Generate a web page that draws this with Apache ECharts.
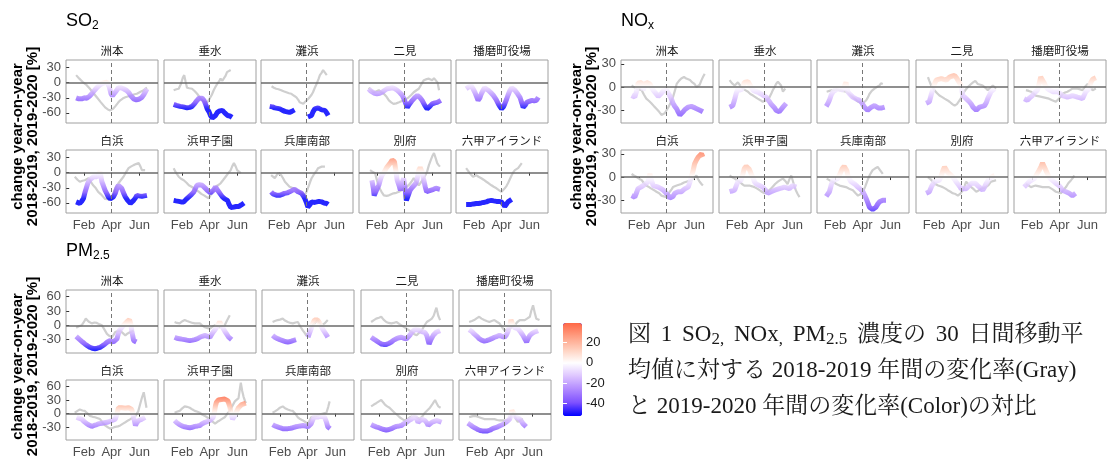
<!DOCTYPE html>
<html><head><meta charset="utf-8">
<script src="https://cdn.jsdelivr.net/npm/echarts@6/dist/echarts.min.js"></script>
<style>
html,body{margin:0;padding:0;background:#fff;}
#wrap{position:relative;width:1120px;height:459px;}
#chart{position:absolute;left:0;top:0;width:1120px;height:459px;}
#cap{position:absolute;left:628px;top:316px;font-family:"Liberation Serif","Noto Serif CJK JP","Noto Sans CJK JP",serif;font-size:23px;line-height:36px;color:#1a1a1a;white-space:nowrap;}
#cap sub{font-size:17px;vertical-align:-3px;line-height:0;}
#cap .l1{word-spacing:4px;}
</style></head>
<body><div id="wrap"><div id="chart"></div>
<div id="cap"><span class="l1">図 1 SO<sub>2,</sub> NOx<sub>,</sub> PM<sub>2.5</sub> 濃度の 30 日間移動平</span><br>均値に対する 2018-2019 年間の変化率(Gray)<br>と 2019-2020 年間の変化率(Color)の対比</div>
</div>
<script>
const stations = ['洲本','垂水','灘浜','二見','播磨町役場','白浜','浜甲子園','兵庫南部','別府','六甲アイランド'];
const monthTicks = [32, 92, 153];
const monthLabels = ['Feb','Apr','Jun'];
const so2Ticks = [-60,-30,0,30];
const noxTicks = [-30,0,30];
const pm25Ticks = [-30,0,30,60];
const legendTicks = [-40,-20,0,20];

const so2Gray = [
 [[15,15],[22,8],[31,0],[38,-5],[45,-12],[52,-20],[60,-29],[68,-38],[78,-49],[84,-53],[89,-55],[95,-52],[100,-47],[106,-40],[111,-35],[117,-31],[122,-29],[129,-27],[136,-25],[142,-23],[147,-22],[155,-18],[162,-15],[169,-10]],
 [[14,-15],[20,-13],[25,-12],[30,-2],[34,10],[37,15],[40,2],[43,-10],[48,-11],[54,-12],[60,-17],[65,-22],[70,-28],[76,-35],[83,-40],[88,-38],[92,-32],[97,-24],[101,-15],[105,-8],[109,-2],[113,3],[116,8],[120,4],[123,5],[127,14],[130,21],[134,18],[138,25]],
 [[16,-7],[21,-10],[26,-12],[31,-13],[37,-15],[42,-17],[48,-19],[54,-21],[59,-22],[65,-26],[70,-29],[74,-34],[77,-39],[81,-40],[85,-42],[89,-38],[92,-35],[96,-32],[99,-29],[103,-24],[106,-19],[110,-10],[114,-2],[118,7],[121,15],[125,20],[128,25],[132,20],[136,15]],
 [[14,-10],[20,-15],[25,-19],[31,-17],[36,-15],[42,-19],[47,-22],[53,-28],[58,-35],[63,-39],[68,-42],[74,-41],[80,-39],[85,-37],[90,-35],[96,-32],[101,-29],[107,-24],[112,-19],[118,-15],[123,-12],[128,-4],[134,5],[140,7],[145,8],[149,6],[152,5],[156,9],[160,11],[164,0],[167,-15]],
 [],
 [[12,-8],[18,-14],[23,-18],[29,-16],[34,-15],[38,-12],[42,-11],[47,-18],[52,-25],[58,-31],[63,-38],[69,-43],[74,-48],[78,-52],[82,-55],[88,-53],[93,-51],[96,-40],[100,-31],[104,-25],[107,-21],[112,-15],[118,-8],[123,0],[129,9],[134,12],[140,15],[145,17],[151,19],[155,12],[158,5],[162,3],[165,5]],
 [[14,9],[19,0],[25,-8],[30,-12],[36,-15],[42,-20],[47,-25],[53,-28],[58,-31],[63,-35],[69,-38],[74,-42],[80,-45],[85,-48],[90,-51],[94,-45],[98,-38],[101,-33],[105,-28],[110,-25],[116,-21],[122,-14],[127,-8],[132,-2],[138,5],[141,12],[145,19],[149,12],[152,5],[156,2],[160,-1]],
 [[15,-5],[19,-8],[23,-11],[27,-5],[30,-1],[34,-3],[37,-5],[41,-11],[45,-18],[50,-23],[55,-28],[61,-30],[66,-31],[72,-35],[77,-38],[83,-42],[88,-45],[92,-38],[96,-28],[100,-18],[103,-11],[107,-5],[110,-1],[114,4],[117,9],[121,10],[125,12],[129,11],[132,12]],
 [[17,5],[22,2],[28,-1],[32,-15],[36,-28],[42,-38],[47,-45],[53,-46],[58,-45],[63,-43],[68,-41],[74,-40],[80,-38],[85,-35],[90,-31],[96,-28],[101,-25],[107,-18],[112,-11],[117,-18],[123,-25],[127,-20],[131,-15],[136,-7],[141,2],[145,15],[149,25],[152,32],[156,39],[160,28],[163,19],[166,15],[169,12]],
 [[15,9],[19,4],[23,-1],[27,-4],[30,-8],[34,-6],[37,-5],[42,-8],[48,-11],[53,-14],[59,-18],[64,-21],[70,-25],[75,-28],[81,-31],[87,-35],[92,-38],[96,-35],[99,-31],[103,-26],[106,-21],[110,-13],[114,-5],[117,0],[121,5],[125,7],[128,9],[132,14],[136,19]]
];
const so2Color = [
 [[15,-30],[21,-32],[27,-32],[33,-30],[38,-31],[44,-27],[49,-22],[55,-15],[60,-10],[66,-5],[71,-2],[77,0],[82,1],[87,-8],[91,-22],[94,-26],[100,-19],[104,-14],[107,-10],[112,-10],[118,-12],[124,-15],[129,-19],[135,-27],[140,-32],[146,-34],[151,-33],[155,-31],[158,-29],[162,-24],[165,-19],[169,-12]],
 [[14,-43],[20,-45],[28,-47],[35,-48],[43,-50],[49,-49],[54,-47],[60,-41],[65,-35],[69,-31],[72,-29],[76,-31],[80,-35],[84,-44],[87,-52],[91,-58],[94,-65],[98,-70],[101,-72],[105,-65],[109,-59],[114,-56],[120,-55],[125,-60],[131,-65],[136,-66],[141,-69]],
 [[12,-47],[18,-48],[23,-50],[29,-51],[34,-52],[40,-55],[45,-57],[50,-58],[55,-59],[60,-57],[66,-54],[72,null],[95,-68],[99,-70],[103,-65],[106,-58],[110,-52],[114,-51],[117,-50],[121,-52],[125,-54],[129,-55],[132,-55],[136,-60],[139,-65]],
 [[14,-12],[18,-16],[21,-19],[27,-21],[32,-22],[38,-21],[43,-19],[49,-15],[54,-12],[60,-11],[65,-10],[71,-12],[76,-15],[82,-20],[87,-25],[92,-35],[98,-49],[103,-42],[109,-35],[115,-29],[120,-25],[125,-29],[130,-35],[136,-45],[141,-52],[147,-47],[152,-42],[158,-40],[163,-39],[167,-37],[171,-35]],
 [[15,-12],[21,-8],[26,-6],[30,-12],[34,-19],[38,-28],[41,-35],[45,-30],[48,-22],[52,-15],[55,-10],[59,-12],[63,-15],[68,-19],[74,-25],[80,-33],[85,-42],[89,-48],[92,-52],[96,-48],[99,-42],[103,-33],[106,-25],[110,-16],[114,-10],[118,-12],[121,-15],[127,-22],[132,-29],[136,-40],[139,-49],[143,-45],[147,-39],[152,-37],[158,-35],[163,-36],[168,-35],[172,-29]],
 [[15,-58],[19,-60],[23,-61],[27,-57],[31,-51],[34,-40],[37,-31],[40,-22],[42,-18],[46,-13],[49,-11],[53,-8],[56,-5],[60,-8],[64,-3],[67,2],[71,-18],[74,-25],[78,-35],[82,-42],[85,-48],[89,-52],[93,-55],[96,-48],[100,-41],[104,-30],[107,-25],[111,-28],[114,-31],[118,-40],[122,-48],[127,-55],[133,-61],[136,-58],[140,-55],[144,-50],[147,-45],[152,-46],[158,-47],[163,-46],[169,-45]],
 [[14,-55],[19,-56],[25,-57],[30,-58],[36,-58],[41,-53],[47,-48],[53,-43],[58,-38],[62,-30],[65,-25],[70,-24],[76,-25],[80,-28],[83,-31],[87,-35],[90,-38],[94,-40],[98,-41],[101,-34],[105,-28],[108,-33],[112,-38],[116,-43],[120,-48],[125,-52],[131,-55],[134,-62],[138,-69],[141,-70],[145,-68],[150,-67],[156,-67],[161,-64],[167,-60]],
 [[15,-38],[19,-42],[23,-45],[28,-45],[33,-45],[39,-43],[44,-41],[50,-40],[55,-38],[61,-35],[66,-33],[70,-35],[74,-38],[77,-40],[81,-41],[85,-46],[88,-51],[92,-60],[95,-68],[99,-64],[103,-58],[108,-59],[114,-58],[119,-57],[125,-58],[130,-60],[136,-61],[139,-63]],
 [[21,-15],[24,-30],[26,-45],[31,-35],[36,-25],[40,-12],[43,-5],[47,0],[50,5],[53,10],[55,12],[60,18],[65,25],[68,27],[70,22],[73,5],[76,-15],[80,-25],[83,-35],[87,-20],[90,-11],[93,-30],[96,-55],[100,-45],[104,-35],[108,-30],[111,-28],[115,-23],[118,-18],[121,-5],[123,5],[126,10],[128,12],[131,0],[133,-11],[137,-28],[140,-38],[145,-36],[149,-35],[155,-33],[160,-31],[165,-32],[169,-33]],
 [[15,-63],[20,-63],[26,-63],[31,-62],[37,-61],[42,-61],[48,-60],[53,-59],[59,-58],[64,-56],[70,-55],[75,-56],[81,-57],[86,-57],[92,-58],[96,-63],[99,-67],[103,-62],[106,-58],[110,-55],[114,-53]]
];
const noxGray = [
 [[16,2],[21,0],[27,-2],[32,-3],[38,-4],[43,-10],[48,-15],[54,-18],[59,-21],[65,-25],[70,-28],[76,-32],[81,-36],[85,-38],[88,-34],[92,-30],[96,-26],[101,-20],[106,-13],[110,-5],[114,4],[119,8],[124,11],[130,13],[135,11],[139,12],[143,9],[148,6],[153,4],[157,0],[161,-2],[164,3],[168,9],[172,14],[175,17]],
 [[16,9],[21,5],[27,2],[30,4],[34,6],[39,2],[45,-2],[50,-4],[56,-6],[61,-9],[67,-11],[72,-13],[77,-15],[83,-17],[88,-19],[92,-18],[96,-17],[99,-15],[103,-13],[107,-8],[110,-4],[114,0],[117,4],[121,7],[124,9],[128,2],[132,-6],[135,-4],[137,-2]],
 [[14,-6],[20,-5],[27,-4],[35,-3],[42,-4],[49,-5],[56,-6],[63,-9],[71,-13],[77,-16],[82,-19],[88,-20],[93,-21],[97,-19],[100,-17],[104,-13],[107,-9],[112,-5],[118,-2],[123,0],[129,2],[132,5],[136,4]],
 [[19,13],[22,8],[26,2],[30,-1],[33,-4],[39,-8],[44,-11],[50,-13],[55,-15],[61,-17],[66,-19],[72,-22],[77,-24],[82,-22],[88,-17],[92,-13],[95,-9],[100,-4],[106,0],[111,3],[117,6],[122,8],[127,4],[133,3],[138,2],[144,-1],[149,-4],[155,-1],[160,2],[164,0],[167,-2]],
 [[19,-4],[25,-5],[30,-6],[35,-8],[40,-11],[48,-12],[55,-13],[62,-14],[69,-15],[76,-17],[84,-19],[88,-17],[91,-15],[95,-12],[98,-9],[104,-7],[109,-6],[115,-4],[120,-2],[126,-2],[131,-2],[137,-3],[142,-4],[147,0],[153,4],[158,0],[164,-4],[167,-3],[171,-2]],
 [[16,4],[21,2],[27,0],[32,-2],[38,-4],[43,-8],[48,-11],[54,-13],[59,-15],[65,-17],[70,-19],[76,-21],[81,-24],[86,-25],[92,-26],[96,-22],[99,-19],[103,-16],[106,-13],[110,-12],[114,-11],[119,-10],[124,-9],[130,-7],[135,-6],[141,-5],[146,-4],[151,-1],[157,2],[160,-2],[164,-6],[168,-9],[171,-11]],
 [[16,2],[21,0],[27,-2],[32,-4],[38,-6],[43,-9],[48,-11],[54,-11],[59,-11],[65,-12],[70,-13],[76,-15],[81,-17],[86,-19],[92,-21],[96,-20],[99,-19],[103,-17],[106,-15],[110,-13],[115,-9],[121,-6],[126,-4],[132,-2],[137,-5],[142,-9],[146,-3],[150,2],[155,-8],[160,-17],[164,-22],[168,-26]],
 [[14,-2],[20,-4],[27,-6],[35,-9],[42,-11],[49,-12],[56,-13],[63,-15],[71,-17],[77,-21],[82,-24],[88,-22],[93,-19],[98,-12],[103,-4],[108,3],[114,9],[119,11],[125,13],[130,9],[136,4]],
 [[19,0],[25,-3],[30,-6],[35,-9],[41,-11],[46,-12],[51,-13],[57,-15],[62,-17],[68,-19],[73,-21],[79,-22],[84,-24],[90,-21],[95,-17],[99,-11],[102,-6],[108,-10],[113,-13],[119,-16],[124,-19],[130,-17],[135,-15],[140,-14],[145,-13],[151,-10],[156,-6],[162,-5],[167,-4]],
 [[19,-9],[25,-11],[30,-13],[35,-12],[40,-11],[48,-12],[55,-13],[62,-13],[69,-13],[77,-16],[84,-19],[90,-20],[95,-21],[100,-17],[106,-13],[111,-8],[117,-4],[121,-1],[124,2]]
];
const noxColor = [
 [[16,-11],[20,-13],[23,-13],[27,-5],[30,5],[34,7],[38,6],[41,-4],[45,2],[48,6],[52,5],[56,4],[60,-1],[63,-4],[67,-7],[70,-9],[74,-12],[77,-13],[81,-8],[85,-5],[89,-4],[92,-4],[96,-8],[99,-11],[103,-16],[106,-21],[110,-25],[114,-28],[117,-32],[121,-36],[124,-34],[128,-32],[132,-29],[135,-28],[139,-26],[142,-24],[146,-25],[150,-26],[154,-27],[157,-28],[161,-29],[164,-30],[168,-31],[171,-32]],
 [[16,-26],[20,-25],[23,-24],[27,-16],[30,-9],[34,-2],[38,-3],[41,-4],[45,0],[48,6],[52,8],[56,7],[59,6],[63,0],[67,-4],[70,-5],[74,-6],[79,-7],[85,-9],[90,-11],[96,-13],[99,-16],[103,-19],[106,-22],[110,-24],[114,-27],[117,-30],[121,-31],[124,-32],[128,-29],[132,-26],[135,-24],[139,-21]],
 [[13,-25],[16,-22],[20,-17],[24,-10],[28,-6],[33,-4],[38,-2],[44,-3],[50,-4],[53,2],[56,6],[58,0],[60,-6],[64,-9],[67,-11],[71,-13],[75,-15],[80,-16],[85,-17],[90,-20],[93,-23],[96,-26],[100,-28],[103,-30],[107,-28],[111,-26],[115,-25],[118,-24],[122,-26],[126,-27],[129,-28],[134,-27],[140,-26]],
 [[15,-21],[19,-20],[22,-19],[26,-10],[30,-2],[33,4],[37,9],[42,10],[48,11],[53,10],[59,9],[63,11],[66,13],[71,14],[77,15],[81,12],[84,9],[88,5],[91,2],[93,-5],[95,-11],[99,-13],[102,-15],[106,-17],[109,-19],[113,-22],[117,-26],[120,-28],[124,-30],[128,-28],[131,-26],[137,-25],[142,-24],[146,-20],[149,-15],[153,-10],[156,-6],[160,-4],[164,-2]],
 [[15,-15],[19,-16],[22,-17],[27,-14],[33,-11],[38,-7],[44,-4],[48,5],[51,13],[55,15],[58,6],[62,1],[66,-2],[71,-4],[77,-6],[82,-6],[88,-6],[93,-8],[98,-11],[104,-12],[109,-13],[115,-12],[120,-11],[126,-12],[131,-13],[137,-14],[142,-15],[146,-10],[149,-6],[153,-5],[156,-2],[160,6],[164,10],[168,11],[171,12]],
 [[16,-24],[20,-25],[23,-26],[27,-20],[30,-15],[36,-13],[41,-11],[46,-9],[52,-6],[54,0],[56,4],[59,-4],[63,-11],[69,-12],[74,-13],[80,-15],[85,-17],[90,-20],[96,-24],[99,-27],[103,-28],[106,-25],[110,-21],[114,-20],[117,-19],[121,-19],[124,-19],[128,-17],[132,-15],[135,-14],[139,-13],[142,-8],[146,0],[150,9],[153,17],[157,22],[161,26],[164,28],[168,30],[171,26]],
 [[16,-19],[21,-18],[27,-17],[30,-12],[34,-6],[38,-5],[41,-4],[45,4],[48,11],[52,14],[56,15],[59,10],[63,4],[67,-1],[70,-6],[74,-9],[77,-11],[81,-11],[85,-11],[88,-13],[92,-15],[96,-18],[99,-21],[103,-20],[106,-19],[110,-18],[114,-17],[119,-16],[124,-15],[130,-14],[135,-13],[141,-14],[146,-15],[150,-13],[153,-11],[157,-12],[161,-13]],
 [[13,-25],[16,-23],[20,-19],[24,-10],[28,-4],[33,-3],[38,-2],[43,4],[48,11],[52,14],[56,15],[58,8],[60,2],[64,-3],[67,-6],[71,-8],[75,-9],[78,-11],[82,-13],[88,-16],[93,-19],[97,-24],[100,-28],[104,-34],[107,-39],[111,-41],[114,-42],[118,-40],[121,-39],[125,-35],[129,-32],[132,-31],[136,-30],[140,-30],[143,-30]],
 [[15,-21],[19,-20],[22,-19],[27,-12],[33,-6],[38,-5],[44,-4],[48,2],[52,9],[55,13],[59,9],[62,6],[68,3],[73,0],[79,-5],[84,-9],[88,-12],[91,-15],[96,-15],[102,-15],[106,-13],[109,-11],[113,-8],[117,-6],[122,-8],[127,-11],[133,-14],[138,-17],[142,-13],[145,-9],[149,-5],[152,-2],[158,0],[164,2]],
 [[15,-13],[20,-10],[26,-6],[31,-4],[37,-2],[42,3],[48,9],[52,14],[55,18],[59,13],[62,9],[66,4],[69,0],[74,-3],[80,-6],[86,-9],[91,-11],[95,-14],[98,-17],[102,-18],[106,-19],[110,-20],[113,-21],[117,-23],[120,-24],[124,-22],[127,-21]]
];
const pm25Gray = [
 [[15,-5],[21,-2],[27,0],[32,7],[36,14],[38,16],[42,8],[45,5],[49,4],[55,6],[60,5],[66,2],[71,0],[76,-8],[82,-18],[87,-22],[93,-25],[97,-19],[100,-14],[106,-12],[111,-11],[116,-16],[122,-21],[127,-17],[133,-14],[137,-12],[140,-11]],
 [[16,7],[21,5],[27,4],[32,8],[38,11],[43,9],[49,7],[55,5],[60,4],[66,4],[71,4],[76,0],[82,-4],[88,-6],[93,-7],[98,-3],[104,0],[109,-2],[114,-4],[120,-2],[125,0],[130,10],[136,21]],
 [[16,7],[21,9],[27,11],[32,12],[38,14],[43,10],[49,7],[55,5],[60,4],[66,6],[71,7],[76,-2],[82,-11],[86,-16],[89,-21],[93,-16],[96,-11],[101,-3],[107,4],[111,8],[114,11],[118,5],[122,0],[125,2],[129,4],[133,8],[136,11]],
 [[15,7],[21,11],[26,14],[32,16],[37,18],[42,12],[48,7],[53,5],[59,4],[64,5],[70,7],[76,3],[81,0],[86,-3],[92,-7],[97,-10],[103,-14],[108,-18],[114,-21],[119,-16],[125,-11],[130,-2],[136,7],[141,10],[147,14],[151,20],[155,32],[157,37],[161,20],[165,11]],
 [[15,7],[21,9],[26,11],[32,15],[37,18],[42,14],[48,11],[53,9],[59,7],[64,9],[70,11],[76,7],[81,4],[86,-3],[92,-11],[97,-9],[103,-7],[108,-3],[114,0],[119,6],[125,11],[130,11],[136,11],[141,14],[147,18],[150,30],[154,42],[158,25],[161,14],[165,12],[168,11]],
 [[12,2],[18,6],[23,9],[29,7],[34,6],[40,0],[45,-5],[51,-7],[56,-8],[62,-10],[67,-12],[73,-20],[78,-26],[84,-30],[89,-33],[95,-31],[100,-29],[106,-28],[111,-26],[117,-22],[122,-19],[128,-15],[133,-12],[139,-8],[144,-5],[150,5],[154,20],[158,35],[162,47],[165,30],[168,13]],
 [[16,2],[21,4],[27,6],[32,11],[38,16],[43,15],[49,13],[55,9],[60,6],[66,4],[71,2],[76,-2],[82,-5],[88,-9],[93,-12],[98,-17],[104,-22],[109,-18],[114,-15],[120,-11],[125,-8],[130,-1],[136,6],[141,16],[147,27],[151,30],[155,34],[158,55],[160,68],[163,50],[166,37],[169,28],[171,23]],
 [[16,2],[21,5],[27,9],[32,13],[38,16],[43,12],[49,9],[55,7],[60,6],[66,-1],[71,-8],[76,-12],[82,-15],[88,-19],[93,-22],[97,-14],[100,-8],[106,-6],[111,-5],[117,-3],[122,-1],[128,1],[133,2],[137,15],[140,27]],
 [[15,16],[21,20],[26,23],[32,27],[37,30],[41,25],[45,20],[50,16],[55,13],[61,7],[66,2],[72,-3],[77,-8],[83,-12],[88,-15],[94,-12],[99,-8],[105,-6],[110,-5],[116,-9],[121,-12],[127,-5],[132,2],[138,8],[143,13],[149,22],[154,30],[158,22],[161,16],[166,13]],
 [[15,-8],[21,-6],[26,-5],[32,-6],[37,-8],[43,-10],[48,-12],[54,-12],[59,-12],[65,-12],[70,-12],[76,-14],[81,-15],[86,-15],[92,-15],[97,-14],[103,-12],[106,-5],[110,2],[114,-4],[117,-12],[121,-18],[125,-15],[128,-13],[132,-12]]
];
const pm25Color = [
 [[15,-23],[19,-27],[23,-30],[29,-35],[34,-39],[40,-43],[45,-46],[50,-48],[56,-49],[61,-48],[67,-46],[72,-43],[78,-39],[83,-35],[89,-32],[93,-34],[96,-35],[100,-31],[104,-28],[106,-20],[109,-11],[113,-6],[118,0],[122,4],[125,7],[128,10],[131,12],[134,2],[136,-11],[138,-22],[140,-32],[143,-34],[146,-35]],
 [[16,-25],[21,-27],[27,-28],[32,-29],[38,-30],[43,-31],[49,-32],[55,-31],[60,-30],[66,-28],[71,-25],[76,-23],[82,-21],[88,-23],[93,-25],[96,-20],[100,-14],[104,-9],[107,-5],[111,2],[114,7],[118,0],[122,-7],[125,-12],[129,-18],[133,-24],[136,-28],[140,-30]],
 [[16,-21],[21,-25],[27,-28],[32,-30],[38,-32],[43,-34],[49,-35],[55,-34],[60,-32],[64,-31],[67,-30],[75,null],[93,-25],[96,-17],[100,-7],[103,3],[107,11],[111,12],[114,11],[118,5],[122,-2],[125,-8],[129,-14],[133,-20],[136,-25]],
 [[15,-25],[21,-29],[26,-32],[32,-36],[37,-39],[42,-40],[48,-40],[53,-38],[59,-35],[64,-31],[70,-28],[76,-26],[81,-25],[86,-27],[92,-28],[96,-25],[99,-21],[103,-15],[106,-11],[110,-9],[114,-7],[118,-10],[121,-14],[125,-13],[128,-11],[132,-15],[136,-21],[139,-32],[141,-39],[145,-30],[150,-21],[153,-17],[157,-14],[161,-12],[165,-11]],
 [[15,-9],[21,-13],[26,-18],[32,-23],[37,-28],[42,-31],[48,-33],[53,-32],[59,-30],[64,-28],[70,-25],[76,-23],[81,-21],[86,-23],[92,-25],[96,-20],[99,-14],[103,-2],[106,11],[108,12],[110,2],[114,-5],[118,-6],[121,-7],[127,-14],[132,-21],[136,-28],[140,-35],[143,-28],[147,-21],[152,-17],[157,-14],[161,-12],[165,-11]],
 [[16,-8],[21,-10],[27,-12],[32,-17],[38,-22],[43,-25],[49,-28],[54,-26],[60,-24],[65,-22],[71,-21],[76,-20],[82,-19],[88,-17],[93,-15],[96,-14],[100,-12],[104,0],[107,13],[111,14],[114,13],[118,13],[122,12],[125,13],[129,13],[133,11],[136,9],[140,-8],[144,-26],[147,-20],[151,-15],[155,-13],[158,-12],[162,-10],[165,-8]],
 [[16,-15],[21,-20],[27,-24],[32,-27],[38,-29],[43,-30],[49,-31],[55,-30],[60,-28],[66,-27],[71,-26],[76,-22],[82,-19],[88,-17],[93,-15],[96,-12],[100,-8],[103,5],[105,18],[107,25],[111,30],[114,34],[118,31],[122,28],[125,32],[129,34],[132,28],[136,16],[139,0],[142,-12],[145,-8],[147,-5],[151,5],[155,13],[158,17],[162,20],[166,21],[171,23]],
 [[16,-24],[21,-27],[27,-29],[32,-31],[38,-33],[43,-33],[49,-33],[55,-32],[60,-31],[66,-29],[71,-28],[76,-27],[82,-26],[88,-27],[93,-29],[96,-26],[100,-22],[104,-12],[107,-5],[111,-7],[114,-8],[118,-6],[122,-5],[125,-6],[129,-8],[133,-18],[136,-29],[139,-31],[141,-33]],
 [[15,-24],[21,-27],[26,-29],[32,-31],[37,-33],[43,-35],[48,-36],[54,-35],[59,-33],[65,-30],[70,-28],[76,-27],[81,-26],[86,-22],[92,-19],[97,-15],[103,-12],[106,-8],[110,-5],[114,-12],[117,-19],[121,-15],[125,-12],[128,-13],[132,-15],[136,-20],[139,-26],[143,-22],[147,-19],[152,-17],[157,-15],[163,-17],[168,-19]],
 [[12,-21],[18,-25],[23,-29],[29,-32],[34,-35],[39,-37],[44,-38],[50,-38],[55,-38],[61,-36],[66,-33],[72,-31],[77,-29],[83,-26],[88,-24],[92,-21],[95,-19],[99,-15],[103,-12],[106,-3],[108,7],[110,5],[114,-3],[117,-8],[121,-10],[125,-12],[129,-17],[132,-22],[136,-26],[139,-29]]
];

// ---------- layout / style ----------
const SANS = '"Liberation Sans", Arial, "Noto Sans CJK JP", sans-serif';
const JP = '"Noto Sans CJK JP", sans-serif';
const PW = 92, PH = 63;
const X_MIN = -7, X_MAX = 193;
const blocks = [
  {gray: so2Gray, color: so2Color, ticks: so2Ticks, yMin: -80, yMax: 45,
   lefts: [66,164,261,359,456], tops: [60,150], title: '{m|SO}{s|2}', tx: 66, ty: 21, ax: 25},
  {gray: noxGray, color: noxColor, ticks: noxTicks, yMin: -46.5, yMax: 35,
   lefts: [621,719,817,916,1014], tops: [60,150], title: '{m|NO}{s|x}', tx: 621, ty: 21, ax: 584},
  {gray: pm25Gray, color: pm25Color, ticks: pm25Ticks, yMin: -58, yMax: 74,
   lefts: [66,164,262,361,459], tops: [290,380], title: '{m|PM}{s|2.5}', tx: 66, ty: 251, ax: 25}
];

const grids = [], xAxes = [], yAxes = [], series = [], graphics = [], colorIdx = [];

blocks.forEach(b => {
  graphics.push({type: 'text', x: b.tx, y: b.ty, silent: true, style: {
    text: b.title, fill: '#000', textAlign: 'left', textVerticalAlign: 'middle',
    rich: {m: {fontSize: 18, fontFamily: SANS, lineHeight: 22, verticalAlign: 'middle', fill: '#000'},
           s: {fontSize: 12, fontFamily: SANS, lineHeight: 11, verticalAlign: 'bottom', fill: '#000'}}
  }});
  const midY = (b.tops[0] + b.tops[1] + PH) / 2;
  graphics.push({type: 'text', x: b.ax, y: midY, rotation: Math.PI / 2, silent: true, style: {
    text: 'change year-on-year\n2018-2019, 2019-2020 [%]', fill: '#000',
    font: 'bold 15px ' + SANS, lineHeight: 15, textAlign: 'center', textVerticalAlign: 'middle'
  }});
  for (let i = 0; i < 10; i++) {
    const row = Math.floor(i / 5), col = i % 5;
    const g = grids.length;
    const left = b.lefts[col], top = b.tops[row];
    grids.push({left: left, top: top, width: PW, height: PH, show: true,
      borderColor: '#a0a0a0', borderWidth: 1, backgroundColor: '#fff'});
    xAxes.push({type: 'value', gridIndex: g, min: X_MIN, max: X_MAX,
      axisLine: {show: false}, splitLine: {show: false},
      axisTick: {show: row === 1, customValues: monthTicks, length: 3, lineStyle: {color: '#333'}},
      axisLabel: {show: row === 1, customValues: monthTicks, margin: 6,
        formatter: v => monthLabels[monthTicks.indexOf(v)], fontSize: 13, color: '#4d4d4d', fontFamily: SANS}
    });
    yAxes.push({type: 'value', gridIndex: g, min: b.yMin, max: b.yMax,
      axisLine: {show: false}, splitLine: {show: false},
      axisTick: {show: col === 0, customValues: b.ticks, length: 3, lineStyle: {color: '#333'}},
      axisLabel: {show: col === 0, customValues: b.ticks, margin: 5, fontSize: 13, color: '#4d4d4d', fontFamily: SANS}
    });
    series.push({type: 'line', xAxisIndex: g, yAxisIndex: g, data: [], silent: true, z: 1,
      markLine: {silent: true, symbol: ['none','none'], label: {show: false}, animation: false,
        emphasis: {disabled: true},
        data: [
          {xAxis: monthTicks[1], lineStyle: {color: '#777', width: 1, type: [4, 3]}},
          {yAxis: 0, lineStyle: {color: '#6a6a6a', width: 1.6, type: 'solid'}}
        ]}
    });
    series.push({type: 'line', xAxisIndex: g, yAxisIndex: g, data: b.gray[i], symbol: 'none',
      silent: true, z: 2, emphasis: {disabled: true},
      lineStyle: {color: '#cfcfcf', width: 2.2}});
    colorIdx.push(series.length);
    series.push({type: 'line', xAxisIndex: g, yAxisIndex: g, data: b.color[i], symbol: 'none',
      silent: true, z: 3, connectNulls: false, emphasis: {disabled: true},
      lineStyle: {width: 5, opacity: 0.85}});
    graphics.push({type: 'text', x: left + PW / 2, y: top - 9, silent: true, style: {
      text: stations[i], fill: '#1a1a1a', font: '11.5px ' + JP, textAlign: 'center', textVerticalAlign: 'middle'
    }});
  }
});

// colour-bar axis (ticks and labels beside the visualMap bar)
const cg = grids.length;
grids.push({left: 563, top: 323, width: 19, height: 93, show: false});
xAxes.push({type: 'value', gridIndex: cg, show: false, min: 0, max: 1});
yAxes.push({type: 'value', gridIndex: cg, position: 'right', min: -52, max: 39, z: 10,
  axisLine: {show: false}, splitLine: {show: false},
  axisTick: {show: true, inside: true, length: 4, customValues: legendTicks, lineStyle: {color: '#fff', width: 1}},
  axisLabel: {show: true, customValues: legendTicks, margin: 4, fontSize: 13, color: '#1a1a1a', fontFamily: SANS}});
xAxes.push({type: 'value', gridIndex: cg, show: false, min: 0, max: 1});
yAxes.push({type: 'value', gridIndex: cg, position: 'left', min: -52, max: 39, z: 10,
  axisLine: {show: false}, splitLine: {show: false},
  axisTick: {show: true, inside: true, length: 4, customValues: legendTicks, lineStyle: {color: '#fff', width: 1}},
  axisLabel: {show: false}});
series.push({type: 'line', xAxisIndex: cg, yAxisIndex: cg, data: [], silent: true});
series.push({type: 'line', xAxisIndex: cg + 1, yAxisIndex: cg + 1, data: [], silent: true});

const chart = echarts.init(document.getElementById('chart'), null, {renderer: 'canvas'});
chart.setOption({
  animation: false,
  backgroundColor: '#fff',
  textStyle: {fontFamily: SANS},
  grid: grids, xAxis: xAxes, yAxis: yAxes, series: series,
  visualMap: {type: 'continuous', seriesIndex: colorIdx, dimension: 1, min: -52, max: 39,
    calculable: false, hoverLink: false, left: 563, top: 323, itemWidth: 19, itemHeight: 93,
    padding: 0, text: null, showLabel: false, z: 4,
    inRange: {color: ['#0000FF','#7E51FF','#B089FF','#DDC4FF','#FFFFFF','#FFD0BE','#FF9E82','#FF6846']},
    outOfRange: {color: '#0000FF'}},
  graphic: graphics
});
</script></body></html>
